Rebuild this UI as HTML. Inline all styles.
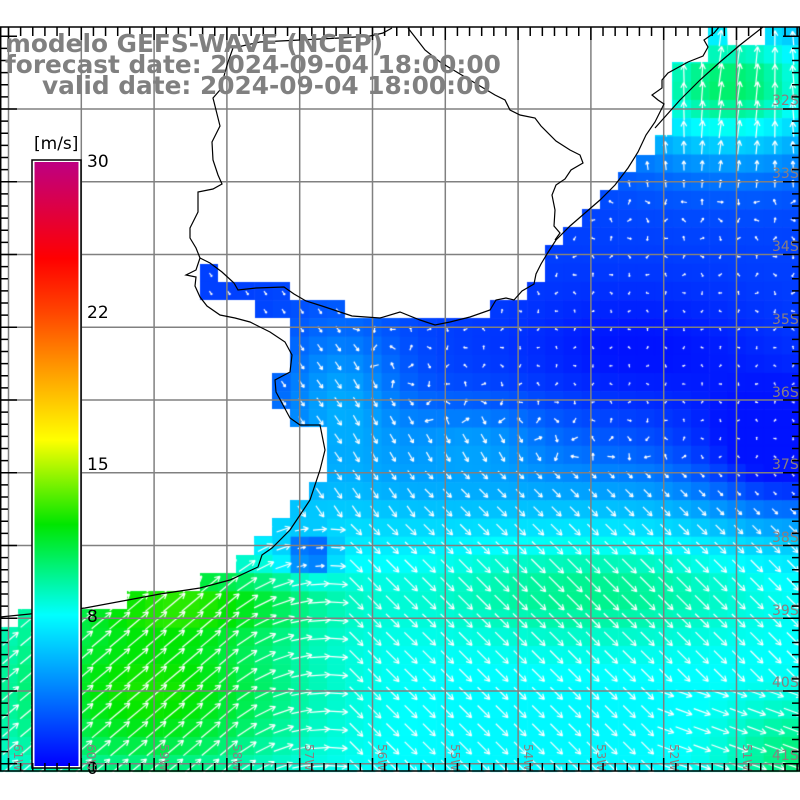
<!DOCTYPE html>
<html><head><meta charset="utf-8"><style>
html,body{margin:0;padding:0;background:#fff;width:800px;height:800px;overflow:hidden}
#c,#s{position:absolute;left:0;top:0}
</style></head><body>
<canvas id="c" width="800" height="800"></canvas>
<svg id="s" width="800" height="800" xmlns="http://www.w3.org/2000/svg">
<defs><linearGradient id="cb" x1="0" y1="1" x2="0" y2="0">
<stop offset="0" stop-color="rgb(0,0,255)"/><stop offset="0.25" stop-color="rgb(0,255,255)"/>
<stop offset="0.40" stop-color="rgb(0,230,0)"/><stop offset="0.54" stop-color="rgb(255,255,0)"/>
<stop offset="0.65" stop-color="rgb(255,160,0)"/><stop offset="0.75" stop-color="rgb(255,70,0)"/>
<stop offset="0.84" stop-color="rgb(255,0,0)"/><stop offset="1" stop-color="rgb(190,0,130)"/>
</linearGradient></defs>
<g id="grid" stroke="#808080" stroke-width="1.5" fill="none"></g>
<g id="coast" stroke="#000" stroke-width="1.2" fill="none">
<polyline points="0,617 30,614 85,608 128,600 160,594 200,588 230,580 258,567 262,555 272,548 290,530 300,515 310,500 320,470 325,450 320,425 300,425 290,418 283,405 276,392 275,380 290,372 292,355 285,342 270,332 250,322 235,318 220,315 207,306 200,297 195,286 196,277 186,275 196,270 200,258 196,248 190,238 190,228 198,212 198,192 213,189 222,184 218,175 213,160 212,142 220,126 216,110 213,98 220,90 224,76 228,62 233,48"/>
<polyline points="200,258 210,263 222,272 234,283 238,290 256,288 284,287 294,294 306,301 322,306 340,312 352,316 380,318 400,312 420,320 435,325 450,322 470,317 490,310 496,300 506,298 514,300 522,291 534,284 536,274 541,264 547,254 556,240 570,226 585,213 600,200 615,185 628,168 638,152 646,135 655,122 660,112 664,104 658,100 652,95 662,88 662,80 668,73 688,62 703,56 708,47 704,40 714,33 719,27"/>
<polyline points="655,128 680,100 700,80 720,62 740,45 763,27"/>
<polyline points="555,240 560,233 554,226 555,210 552,195 556,185 565,179 571,170 583,163 580,155 570,150 556,141 541,126 535,118 520,115 510,110 505,100 495,95 470,80 440,62 425,50 408,28"/>
<polyline points="233,48 260,42 300,40 340,38 370,36 383,33 392,28"/>
</g>
<rect x="32" y="160" width="49" height="608" fill="#fff" stroke="#000" stroke-width="1.5"/>
<rect x="34.5" y="162" width="44" height="604" fill="url(#cb)"/>
<g font-family="DejaVu Sans, sans-serif" font-size="17" fill="#000">
<text x="34" y="149">[m/s]</text>
<text x="87" y="167">30</text><text x="87" y="318">22</text>
<text x="87" y="470">15</text><text x="87" y="622">8</text><text x="87" y="774">0</text>
</g>
<g font-family="DejaVu Sans, sans-serif" font-size="14" fill="#8a7f7f" id="lat">
<text x="772" y="105">32S</text><text x="772" y="178">33S</text><text x="772" y="251">34S</text>
<text x="772" y="324">35S</text><text x="772" y="397">36S</text><text x="772" y="469">37S</text>
<text x="772" y="542">38S</text><text x="772" y="615">39S</text><text x="772" y="687">40S</text>
<text x="772" y="760">41S</text>
</g>
<g font-family="DejaVu Sans, sans-serif" font-size="12" fill="#8a7f7f">
<text transform="translate(14,744) rotate(90)">61W</text>
<text transform="translate(87,744) rotate(90)">60W</text>
<text transform="translate(160,744) rotate(90)">59W</text>
<text transform="translate(233,744) rotate(90)">58W</text>
<text transform="translate(305,744) rotate(90)">57W</text>
<text transform="translate(378,744) rotate(90)">56W</text>
<text transform="translate(451,744) rotate(90)">55W</text>
<text transform="translate(524,744) rotate(90)">54W</text>
<text transform="translate(597,744) rotate(90)">53W</text>
<text transform="translate(670,744) rotate(90)">52W</text>
<text transform="translate(743,744) rotate(90)">51W</text>
</g>
<g id="ticks" stroke="#000" stroke-width="1.5"></g>
<g font-family="DejaVu Sans, sans-serif" font-weight="bold" font-size="24.8" fill="#808080">
<text x="5" y="52">modelo GEFS-WAVE (NCEP)</text>
<text x="5" y="73">forecast date: 2024-09-04 18:00:00</text>
<text x="42" y="94">valid date: 2024-09-04 18:00:00</text>
</g>
</svg>
<script>
var ctx=document.getElementById('c').getContext('2d');
var poly=[[0,620],[0,772],[800,772],[800,27],[765,27],[765,45],[728,45],[728,62],[727,27],[708,27],[708,62],[672,62],[672,135],[655,135],[655,155],[636,155],[636,172],[618,172],[618,190],[600,190],[600,209],[582,209],[582,227],[563,227],[563,245],[545,245],[545,282],[527,282],[527,300],[490,300],[490,318],[345,318],[345,300],[327,300],[327,300],[290,300],[290,282],[218,282],[218,264],[200,264],[200,300],[218,300],[218,300],[255,300],[255,318],[290,318],[290,373],[272,373],[272,409],[290,409],[290,427],[327,427],[327,482],[309,482],[309,500],[290,500],[290,518],[272,518],[272,536],[254,536],[254,555],[236,555],[236,573],[200,573],[200,591],[127,591],[127,609],[18,609],[18,627],[0,627]];
function G(x,y,cx,cy,sx,sy){var a=(x-cx)/sx,b=(y-cy)/sy;return Math.exp(-(a*a+b*b));}
function sp(x,y){
 var v=2+5.8/(1+Math.exp(-(y-490)/30));
 v+=2.3*G(x,y,590,590,170,55);
 v+=4.8*G(x,y,150,690,150,90)+3.5*G(x,y,190,600,130,35);
 v+=2.4*G(x,y,800,760,80,60);
 v-=4*G(x,y,790,460,90,70);
 v+=8.5*G(x,y,730,85,130,75);
 v+=3*G(x,y,340,400,60,80)+2*G(x,y,470,440,80,40);
 v-=1.5*G(x,y,640,350,120,60);
 v-=6*G(x,y,310,555,22,18);
 return Math.max(0.6,Math.min(16,v));}
var st=[[0,0,0,255],[.25,0,255,255],[.40,0,230,0],[.54,255,255,0],[.65,255,160,0],[.75,255,70,0],[.84,255,0,0],[1,190,0,130]];
function col(v){var t=v<=8?v/8*.25:v<=15?.25+(v-8)/7*.25:v<=22?.5+(v-15)/7*.25:.75+(v-22)/8*.25;
 for(var i=1;i<st.length;i++)if(t<=st[i][0]){var a=st[i-1],b=st[i],f=(t-a[0])/(b[0]-a[0]);
 return 'rgb('+Math.round(a[1]+f*(b[1]-a[1]))+','+Math.round(a[2]+f*(b[2]-a[2]))+','+Math.round(a[3]+f*(b[3]-a[3]))+')';}
 return 'rgb(190,0,130)';}
function ang(x,y,v){
 if(y<200&&x>640)return -90*Math.PI/180+0.15*Math.sin(x);
 if(y<470&&x>340){if(v<4)return (x*7+y*3)%6;return 60*Math.PI/180;}
 var a;if(x<230)a=-40;else if(x<340)a=-40+(x-230)/110*45;else a=45;
 if(y>690&&x>650)a=Math.min(a,20);
 if(y<520&&x<420)a=Math.max(a,55);
 return a*Math.PI/180;}
ctx.save();ctx.beginPath();poly.forEach(function(p,i){i?ctx.lineTo(p[0],p[1]):ctx.moveTo(p[0],p[1]);});ctx.closePath();ctx.clip();
var d=18.2,cells=[];
for(var i=-1;i<46;i++)for(var j=-6;j<40;j++){var cx=8.5+i*d,cy=109+j*d;if(cy<18||cy>790)continue;var v=sp(cx,cy);
 ctx.fillStyle=col(v);ctx.fillRect(cx-d/2,cy-d/2,d+.6,d+.6);cells.push([cx,cy,v]);}
ctx.strokeStyle='#fff';ctx.lineWidth=1.2;
cells.forEach(function(c){var a=ang(c[0],c[1],c[2]),L=Math.max(3,c[2]*2.2);
 var dx=Math.cos(a)*L,dy=Math.sin(a)*L,x0=c[0]-dx/2+2,y0=c[1]-dy/2+2,x1=x0+dx,y1=y0+dy;
 ctx.beginPath();ctx.moveTo(x0,y0);ctx.lineTo(x1,y1);
 var h=Math.min(6,L*.4);
 ctx.moveTo(x1,y1);ctx.lineTo(x1-h*Math.cos(a-0.5),y1-h*Math.sin(a-0.5));
 ctx.moveTo(x1,y1);ctx.lineTo(x1-h*Math.cos(a+0.5),y1-h*Math.sin(a+0.5));ctx.stroke();});
ctx.restore();
var NS='http://www.w3.org/2000/svg';
function ln(g,x1,y1,x2,y2){var l=document.createElementNS(NS,'line');l.setAttribute('x1',x1);l.setAttribute('y1',y1);l.setAttribute('x2',x2);l.setAttribute('y2',y2);g.appendChild(l);}
var gg=document.getElementById('grid'),tk=document.getElementById('ticks');
for(var k=0;k<11;k++){var x=8.5+72.8*k;ln(gg,x,27,x,771);}
for(var k=0;k<10;k++){var y=109+72.75*k;ln(gg,0,y,800,y);}
ln(tk,0,27,800,27);ln(tk,0,771,800,771);ln(tk,0.7,27,0.7,771);ln(tk,799.3,27,799.3,771);
for(var k=-1;k<67;k++){var x=8.5+12.133*k;if(x<0||x>800)continue;var m=(k%6==0);
 ln(tk,x,27,x,m?40:36);ln(tk,x,771,x,m?758:763);}
for(var k=-8;k<60;k++){var y=109+12.125*k;if(y<27||y>771)continue;var m=(k%6==0);
 ln(tk,0,y,m?17:8,y);ln(tk,800,y,m?783:792,y);}
</script>
</body></html>
